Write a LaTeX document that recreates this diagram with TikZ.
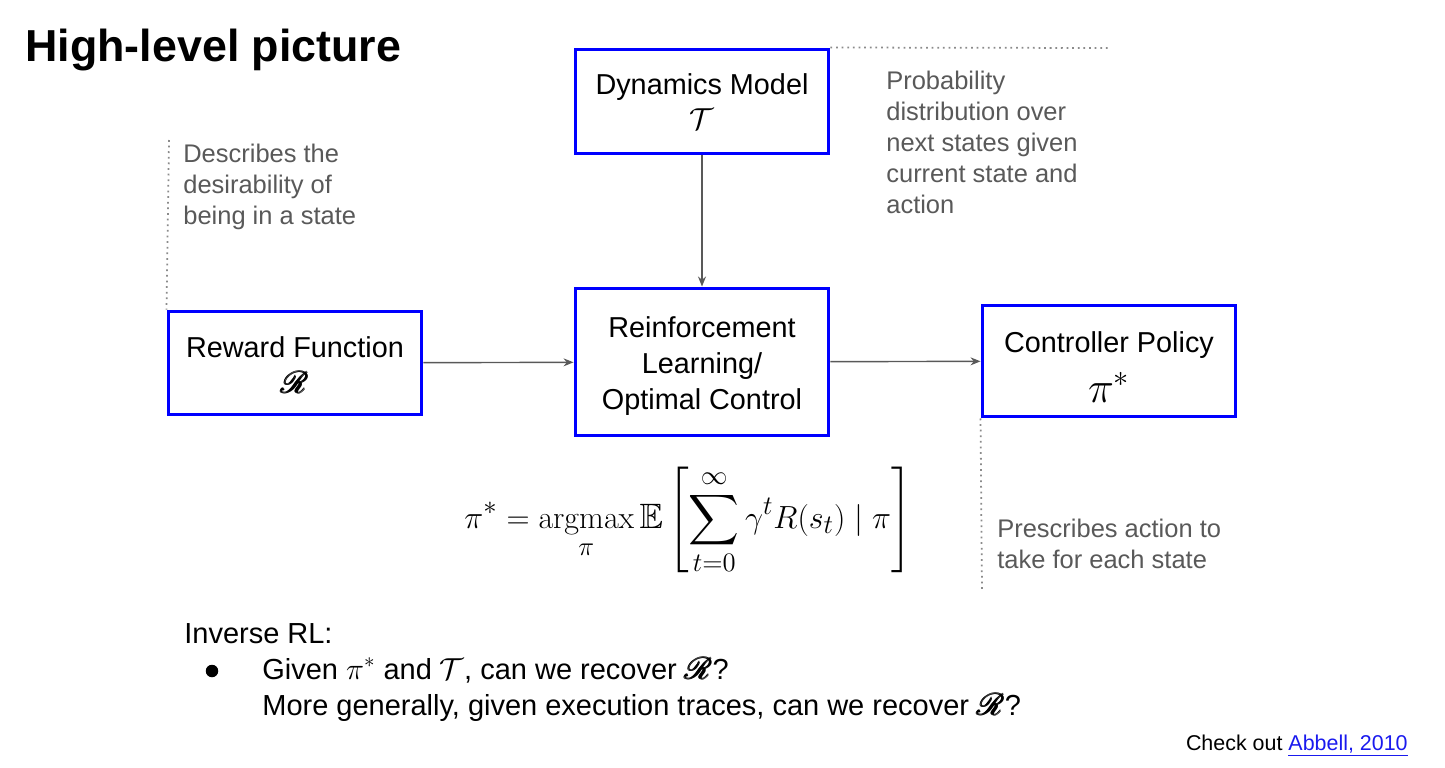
\documentclass[tikz,border=0pt]{standalone}
\usepackage[no-math]{fontspec}
\setmainfont{Liberation Sans}
\usepackage{amsmath}
\usepackage{amssymb}
\usepackage{mathrsfs}
\usetikzlibrary{arrows.meta}
\definecolor{BleuBoite}{HTML}{0000FF}
\definecolor{GrisNote}{HTML}{595959}
\definecolor{BleuLien}{HTML}{1A1AEE}
\newcommand{\rew}{\pmb{\mathscr{R}}}

\begin{document}
\begin{tikzpicture}
	[x=0.02cm, y=-0.02cm,
	boite/.style = {draw=BleuBoite, line width=0.06cm, minimum width=5.08cm, inner sep=0,
		align=center, font=\fontsize{16.4}{20.4}\selectfont},
	note/.style = {anchor=north west, inner sep=0, align=left, text=GrisNote,
		font=\fontsize{14.5}{17.6}\selectfont},
	texte/.style = {anchor=base west, inner sep=0, font=\fontsize{16.5}{20}\selectfont},
	fleche/.style = {draw=GrisNote, line width=0.8pt, -{Stealth[length=2mm,width=1.6mm]}},
	pointille/.style = {draw=GrisNote!70, line width=1pt, dash pattern=on 1pt off 2.2pt}]
	\useasboundingbox (0,0) rectangle (1445,768);
	% titre
	\node[anchor=base west, inner sep=0, font=\fontsize{25.5}{30}\selectfont\bfseries] (titre) at (25,61) {High-level picture};
	% boites
	\node[boite, minimum height=2.1cm] (dyn) at (702,101.5) {Dynamics Model\\$\mathcal{T}$};
	\node[boite, minimum height=2.08cm] (reward) at (295,363) {\rule{0pt}{14.5pt}Reward Function\\$\rew$};
	\node[boite, minimum height=2.96cm] (rl) at (702,362) {\rule{0pt}{16.6pt}Reinforcement\\Learning/\\Optimal Control};
	\node[boite, minimum height=2.24cm] (policy) at (1109,361) {\rule{0pt}{19pt}Controller Policy\\[7pt]{\fontsize{27}{28}\selectfont$\pi^*$}};
	% fleches
	\draw[fleche] (dyn) -- (rl);
	\draw[fleche] (reward) -- (rl);
	\draw[fleche] (rl) -- (policy);
	% annotations
	\coordinate (finDyn) at (1110,48);
	\coordinate (debReward) at (169,140);
	\coordinate (finPolicy) at (982,590);
	\draw[pointille] (dyn.north east) -- (finDyn);
	\draw[pointille] (debReward) -- (reward.north west);
	\draw[pointille] (policy.south west) -- (finPolicy);
	\node[note] (noteDyn) at (886,71) {Probability\\distribution over\\next states given\\current state and\\action};
	\node[note] (noteReward) at (183,144) {Describes the\\desirability of\\being in a state};
	\node[note] (notePolicy) at (997,519) {Prescribes action to\\take for each state};
	% formule
	\node[inner sep=0, scale=1.055, font=\fontsize{19}{23}\selectfont] (formule) at (688,521)
		{$\displaystyle \pi^* = \operatorname*{argmax}_{\pi} \mathbb{E}\left[\sum_{t=0}^{\infty}\gamma^t R(s_t) \mid \pi\right]$};
	% RL inverse
	\node[texte] (inverse) at (184,643) {Inverse RL:};
	\node[circle, fill, inner sep=0, minimum size=0.25cm] (puce) at (212,671) {};
	\node[texte] (question) at (262,679) {Given $\pi^*$ and $\mathcal{T}$, can we recover $\rew$?};
	\node[texte] (general) at (262,715) {More generally, given execution traces, can we recover $\rew$?};
	\node[anchor=base east, inner sep=0, font=\fontsize{12.2}{14}\selectfont] (ref) at (1408,750)
		{Check out \textcolor{BleuLien}{\underline{Abbell, 2010}}};
\end{tikzpicture}
\end{document}
